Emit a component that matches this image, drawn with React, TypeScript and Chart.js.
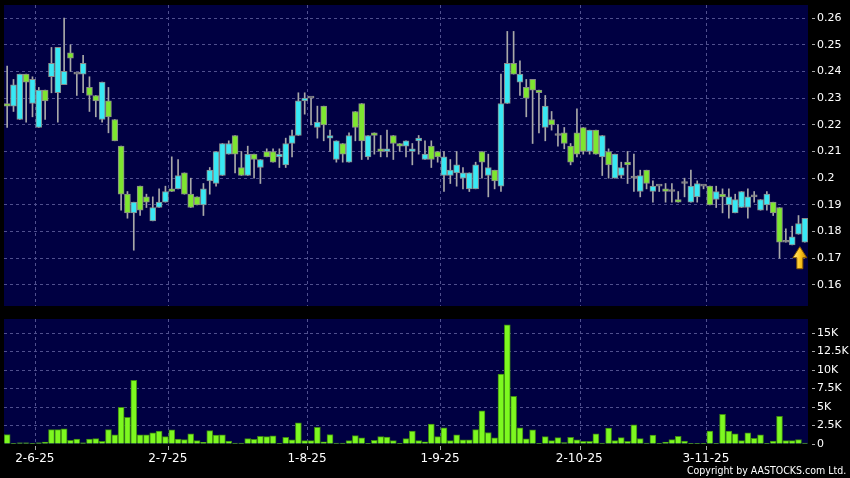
import React, { useEffect, useRef } from 'react';
import { Chart, registerables } from 'chart.js';
Chart.register(...registerables);

const dates = [
  '26-5-25','27-5-25','28-5-25','29-5-25','30-5-25',
  '2-6-25','3-6-25','4-6-25','5-6-25','6-6-25','9-6-25','10-6-25','11-6-25','12-6-25','13-6-25','16-6-25','17-6-25','18-6-25','19-6-25','20-6-25','23-6-25','24-6-25','25-6-25','26-6-25','27-6-25','30-6-25',
  '2-7-25','3-7-25','4-7-25','7-7-25','8-7-25','9-7-25','10-7-25','11-7-25','14-7-25','15-7-25','16-7-25','17-7-25','18-7-25','21-7-25','22-7-25','23-7-25','24-7-25','25-7-25','28-7-25','29-7-25','30-7-25','31-7-25',
  '1-8-25','4-8-25','5-8-25','6-8-25','7-8-25','8-8-25','11-8-25','12-8-25','13-8-25','14-8-25','15-8-25','18-8-25','19-8-25','20-8-25','21-8-25','22-8-25','25-8-25','26-8-25','27-8-25','28-8-25','29-8-25',
  '1-9-25','2-9-25','3-9-25','4-9-25','5-9-25','8-9-25','9-9-25','10-9-25','11-9-25','12-9-25','15-9-25','16-9-25','17-9-25','18-9-25','19-9-25','22-9-25','23-9-25','24-9-25','25-9-25','26-9-25','29-9-25','30-9-25',
  '2-10-25','3-10-25','6-10-25','8-10-25','9-10-25','10-10-25','13-10-25','14-10-25','15-10-25','16-10-25','17-10-25','20-10-25','21-10-25','22-10-25','23-10-25','24-10-25','27-10-25','28-10-25','30-10-25','31-10-25',
  '3-11-25','4-11-25','5-11-25','6-11-25','7-11-25','10-11-25','11-11-25','12-11-25','13-11-25','14-11-25','17-11-25','18-11-25','19-11-25','20-11-25','21-11-25','24-11-25',
];

const shownDates = ['2-6-25', '2-7-25', '1-8-25', '1-9-25', '2-10-25', '3-11-25'];

const opens = [
  0.228,0.227,0.222,0.239,0.228,0.219,0.233,0.238,0.232,0.235,
  0.247,0.239,0.239,0.234,0.231,0.222,0.229,0.222,0.212,0.194,
  0.187,0.197,0.193,0.184,0.189,0.191,0.196,0.196,0.202,0.194,
  0.193,0.190,0.199,0.198,0.201,0.209,0.216,0.204,0.201,0.209,
  0.204,0.210,0.210,0.208,0.205,0.213,0.216,0.229,0.230,0.219,
  0.227,0.215,0.207,0.213,0.206,0.225,0.228,0.208,0.217,0.211,
  0.210,0.216,0.213,0.212,0.210,0.214,0.207,0.212,0.210,0.201,
  0.201,0.202,0.200,0.196,0.196,0.210,0.201,0.203,0.197,0.228,
  0.243,0.236,0.234,0.237,0.233,0.219,0.222,0.216,0.217,0.212,
  0.217,0.219,0.210,0.218,0.208,0.210,0.200,0.201,0.206,0.200,
  0.195,0.203,0.195,0.197,0.196,0.195,0.192,0.198,0.191,0.193,
  0.197,0.197,0.192,0.194,0.190,0.187,0.189,0.189,0.193,0.188,
  0.190,0.191,0.189,0.176,0.175,0.179,0.176,
];

const highs = [
  0.242,0.237,0.239,0.239,0.238,0.234,0.233,0.249,0.249,0.260,
  0.250,0.239,0.246,0.238,0.231,0.236,0.234,0.222,0.212,0.195,
  0.191,0.197,0.194,0.193,0.196,0.197,0.208,0.207,0.202,0.200,
  0.193,0.198,0.204,0.210,0.213,0.214,0.216,0.210,0.212,0.209,
  0.207,0.211,0.211,0.211,0.215,0.218,0.232,0.232,0.230,0.227,
  0.227,0.218,0.214,0.213,0.217,0.225,0.228,0.216,0.217,0.216,
  0.218,0.216,0.213,0.214,0.213,0.216,0.214,0.214,0.210,0.210,
  0.207,0.210,0.204,0.202,0.206,0.210,0.209,0.203,0.239,0.255,
  0.255,0.244,0.237,0.237,0.233,0.231,0.225,0.220,0.219,0.213,
  0.226,0.219,0.218,0.218,0.216,0.211,0.209,0.206,0.210,0.209,
  0.203,0.203,0.199,0.197,0.198,0.198,0.195,0.200,0.203,0.199,
  0.197,0.197,0.197,0.196,0.196,0.194,0.195,0.196,0.195,0.192,
  0.195,0.191,0.189,0.181,0.182,0.186,0.185,
];

const lows = [
  0.219,0.225,0.222,0.221,0.223,0.219,0.222,0.232,0.221,0.235,
  0.240,0.231,0.232,0.225,0.223,0.221,0.217,0.214,0.188,0.185,
  0.173,0.186,0.189,0.184,0.189,0.191,0.195,0.196,0.194,0.189,
  0.190,0.186,0.194,0.197,0.201,0.209,0.202,0.201,0.201,0.200,
  0.198,0.208,0.206,0.204,0.204,0.208,0.216,0.224,0.220,0.215,
  0.214,0.210,0.206,0.206,0.206,0.214,0.207,0.207,0.209,0.208,
  0.208,0.207,0.210,0.208,0.205,0.209,0.207,0.204,0.206,0.195,
  0.198,0.197,0.196,0.195,0.196,0.200,0.193,0.196,0.195,0.228,
  0.239,0.231,0.223,0.213,0.217,0.214,0.218,0.212,0.211,0.205,
  0.208,0.209,0.209,0.209,0.201,0.200,0.200,0.200,0.198,0.195,
  0.193,0.196,0.191,0.195,0.191,0.191,0.191,0.193,0.191,0.191,
  0.196,0.190,0.189,0.187,0.185,0.187,0.189,0.185,0.191,0.188,
  0.188,0.186,0.170,0.176,0.175,0.179,0.176,
];

const closes = [
  0.227,0.235,0.239,0.236,0.237,0.233,0.229,0.243,0.249,0.240,
  0.245,0.239,0.243,0.231,0.229,0.236,0.223,0.214,0.194,0.187,
  0.191,0.188,0.191,0.189,0.191,0.195,0.195,0.201,0.194,0.189,
  0.190,0.196,0.203,0.210,0.213,0.213,0.209,0.201,0.209,0.207,
  0.207,0.208,0.206,0.209,0.213,0.216,0.229,0.230,0.230,0.221,
  0.220,0.216,0.214,0.209,0.216,0.219,0.214,0.216,0.216,0.210,
  0.211,0.213,0.212,0.214,0.211,0.215,0.209,0.207,0.208,0.208,
  0.203,0.205,0.202,0.202,0.205,0.206,0.204,0.199,0.228,0.243,
  0.239,0.239,0.230,0.233,0.232,0.227,0.220,0.216,0.213,0.206,
  0.209,0.210,0.218,0.209,0.216,0.205,0.209,0.204,0.205,0.200,
  0.201,0.198,0.197,0.197,0.195,0.195,0.191,0.198,0.197,0.198,
  0.197,0.190,0.195,0.193,0.193,0.192,0.195,0.193,0.193,0.192,
  0.194,0.187,0.176,0.176,0.178,0.183,0.185,
];

const volumes = [
  1270,50,150,150,50,150,250,1950,1950,2050,
  500,680,150,680,730,360,1950,1230,4950,3600,
  8600,1230,1230,1500,1730,1000,1900,680,600,1360,
  450,230,1800,1200,1230,400,140,140,730,640,
  1050,1000,1100,90,900,550,2850,450,450,2270,
  300,1270,140,140,450,1140,820,100,500,1000,
  950,450,100,730,1730,450,300,2700,1000,2200,
  450,1230,550,550,1950,4500,1550,820,9450,16100,
  6450,2200,700,1900,20,1000,450,860,200,900,
  550,350,350,1360,140,2150,450,860,350,2600,
  730,140,1200,20,250,600,1050,400,100,20,
  20,1730,100,4000,1730,1360,450,1500,770,1230,
  100,400,3750,450,450,600,140,
];

const priceTicks = [0.16, 0.17, 0.18, 0.19, 0.2, 0.21, 0.22, 0.23, 0.24, 0.25, 0.26];
const volumeTicks = [0, 2500, 5000, 7500, 10000, 12500, 15000];

const NAVY = '#000042';
const GRID = '#50508e';
const TICK = '#a8a8a8';
const CYAN = '#38e8f4';
const GREEN = '#7ee630';
const BODY_BORDER = '#8a8a8a';
const WICK = '#a8a8a8';
const VOL_FILL = '#7df820';
const VOL_BORDER = '#3e8a12';
const FONT = "'DejaVu Sans', sans-serif";

const bgPlugin = {
  id: 'navyArea',
  beforeDraw(chart: any) {
    const { ctx, chartArea } = chart;
    ctx.save();
    ctx.fillStyle = NAVY;
    ctx.fillRect(chartArea.left, chartArea.top, chartArea.right - chartArea.left, chartArea.bottom - chartArea.top);
    ctx.restore();
  },
};

const arrowPlugin = {
  id: 'lastArrow',
  afterDatasetsDraw(chart: any) {
    const last = dates.length - 1;
    const x = chart.scales.x.getPixelForValue(last) - 5;
    const y = chart.scales.y.getPixelForValue(lows[last]) + 4.5;
    const ctx = chart.ctx;
    ctx.save();
    const g = ctx.createLinearGradient(x - 7, 0, x + 7, 0);
    g.addColorStop(0, '#ffec8a');
    g.addColorStop(0.5, '#ffc820');
    g.addColorStop(1, '#c88a00');
    ctx.beginPath();
    ctx.moveTo(x, y);
    ctx.lineTo(x + 7, y + 11);
    ctx.lineTo(x + 3, y + 11);
    ctx.lineTo(x + 3, y + 22);
    ctx.lineTo(x - 3, y + 22);
    ctx.lineTo(x - 3, y + 11);
    ctx.lineTo(x - 7, y + 11);
    ctx.closePath();
    ctx.fillStyle = g;
    ctx.fill();
    ctx.strokeStyle = '#8a5a00';
    ctx.lineWidth = 1;
    ctx.stroke();
    ctx.restore();
  },
};

const isShown = (i: number) => i >= 0 && i < dates.length && shownDates.includes(dates[i]);

function fmtPrice(v: number) {
  return String(Number(v.toFixed(2)));
}
function fmtVol(v: number) {
  return v === 0 ? '0' : `${v / 1000}K`;
}

export default function App() {
  const priceRef = useRef<HTMLCanvasElement>(null);
  const volRef = useRef<HTMLCanvasElement>(null);

  useEffect(() => {
    const bodyColors = opens.map((o, i) => (closes[i] > o ? CYAN : closes[i] < o ? GREEN : BODY_BORDER));

    const priceChart = new Chart(priceRef.current as HTMLCanvasElement, {
      type: 'bar',
      data: {
        labels: dates,
        datasets: [
          {
            label: 'body',
            data: opens.map((o, i) => [o, closes[i]]) as any,
            backgroundColor: bodyColors,
            borderColor: BODY_BORDER,
            borderWidth: 1,
            borderSkipped: false,
            barThickness: 6,
            minBarLength: 2,
            grouped: false,
          } as any,
          {
            label: 'wick',
            data: lows.map((l, i) => [l, highs[i]]) as any,
            backgroundColor: WICK,
            borderWidth: 0,
            barThickness: 1,
            minBarLength: 1,
            grouped: false,
          } as any,
        ],
      },
      options: {
        responsive: false,
        animation: false,
        events: [],
        layout: { padding: { left: 4, top: 5, right: 0, bottom: 6 }, autoPadding: false } as any,
        plugins: { legend: { display: false }, tooltip: { enabled: false } },
        scales: {
          x: {
            type: 'category',
            offset: true,
            grid: {
              offset: true,
              drawTicks: false,
              color: (ctx: any) => (isShown(ctx.index) ? GRID : 'transparent'),
            },
            border: { display: false, dash: [3, 3] },
            ticks: { display: false },
            afterFit: (s: any) => {
              s.height = 0;
              s.paddingLeft = 0;
              s.paddingRight = 0;
            },
          } as any,
          y: {
            type: 'linear',
            position: 'right',
            min: 0.1521,
            max: 0.2649,
            afterBuildTicks: (s: any) => {
              s.ticks = priceTicks.map((v) => ({ value: v }));
            },
            grid: {
              color: GRID,
              tickColor: TICK,
              tickLength: 7,
              tickBorderDash: [0, 4, 3, 0],
            },
            border: { display: false, dash: [3, 3] },
            ticks: {
              color: '#ffffff',
              font: { family: FONT, size: 11 },
              padding: 2,
              callback: (v: any) => fmtPrice(Number(v)),
            },
            afterFit: (s: any) => {
              s.width = 42;
              s.paddingTop = 0;
              s.paddingBottom = 0;
            },
          } as any,
        },
      },
      plugins: [bgPlugin, arrowPlugin],
    });

    const volChart = new Chart(volRef.current as HTMLCanvasElement, {
      type: 'bar',
      data: {
        labels: dates,
        datasets: [
          {
            label: 'volume',
            data: volumes,
            backgroundColor: VOL_FILL,
            borderColor: VOL_BORDER,
            borderWidth: 1,
            barThickness: 6,
          } as any,
        ],
      },
      options: {
        responsive: false,
        animation: false,
        events: [],
        layout: { padding: { left: 4, top: 7, right: 0, bottom: 0 }, autoPadding: false } as any,
        plugins: { legend: { display: false }, tooltip: { enabled: false } },
        scales: {
          x: {
            type: 'category',
            offset: true,
            grid: {
              offset: true,
              color: (ctx: any) => (isShown(ctx.index) ? GRID : 'transparent'),
              tickColor: (ctx: any) => (isShown(ctx.index) ? TICK : 'transparent'),
              tickLength: 6,
              tickBorderDash: [0, 2, 4, 0],
            },
            border: { display: false, dash: [3, 3] },
            ticks: {
              autoSkip: false,
              maxRotation: 0,
              minRotation: 0,
              color: '#ffffff',
              font: { family: FONT, size: 12 },
              padding: 2,
              labelOffset: -4,
              callback: (_v: any, i: number) => (isShown(i) ? dates[i] : ''),
            },
            afterFit: (s: any) => {
              s.height = 34;
              s.paddingLeft = 0;
              s.paddingRight = 0;
            },
          } as any,
          y: {
            type: 'linear',
            position: 'right',
            min: 0,
            max: 16900,
            afterBuildTicks: (s: any) => {
              s.ticks = volumeTicks.map((v) => ({ value: v }));
            },
            grid: {
              color: (ctx: any) => (ctx.index === 0 ? 'transparent' : GRID),
              tickColor: TICK,
              tickLength: 7,
              tickBorderDash: [0, 4, 3, 0],
            },
            border: { display: false, dash: [3, 3] },
            ticks: {
              color: '#ffffff',
              font: { family: FONT, size: 11 },
              padding: 2,
              callback: (v: any) => fmtVol(Number(v)),
            },
            afterFit: (s: any) => {
              s.width = 42;
              s.paddingTop = 0;
              s.paddingBottom = 0;
            },
          } as any,
        },
      },
      plugins: [bgPlugin],
    });

    return () => {
      priceChart.destroy();
      volChart.destroy();
    };
  }, []);

  return (
    <div style={{ position: 'fixed', left: 0, top: 0, width: 850, height: 478, background: '#000000', overflow: 'hidden' }}>
      <canvas ref={priceRef} width={850} height={312} style={{ position: 'absolute', left: 0, top: 0, width: 850, height: 312 }} />
      <canvas ref={volRef} width={850} height={166} style={{ position: 'absolute', left: 0, top: 312, width: 850, height: 166 }} />
      <div
        style={{
          position: 'absolute',
          right: 4,
          top: 465,
          color: '#ffffff',
          fontFamily: FONT,
          fontSize: 11,
          lineHeight: '11px',
          whiteSpace: 'nowrap',
          transform: 'scaleX(0.86)',
          transformOrigin: 'right center',
        }}
      >
        Copyright by AASTOCKS.com Ltd.
      </div>
    </div>
  );
}
